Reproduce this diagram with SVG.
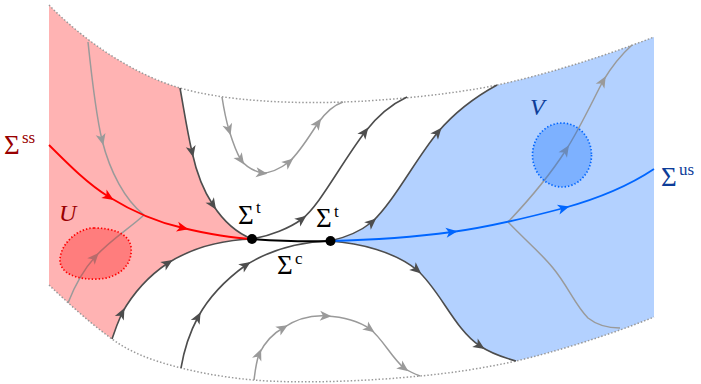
<svg xmlns="http://www.w3.org/2000/svg" width="701" height="384" viewBox="0 0 701 384">
<style>
.bd{fill:none;stroke:#999;stroke-width:1.5;stroke-dasharray:1.5 2}
.dk{fill:none;stroke:#4d4d4d;stroke-width:1.6;marker-mid:url(#ad)}
.gr{fill:none;stroke:#9a9a9a;stroke-width:1.5;marker-mid:url(#ag)}
.grn{fill:none;stroke:#9a9a9a;stroke-width:1.5}
.rd{fill:none;stroke:#ff0000;stroke-width:1.8;marker-mid:url(#ar)}
.bl{fill:none;stroke:#0066ff;stroke-width:1.8;marker-mid:url(#ab)}
.sg{font-family:"Liberation Serif","DejaVu Serif",serif;font-size:27px}
.sp{font-family:"Liberation Serif","DejaVu Serif",serif;font-size:17px}
.it{font-family:"Liberation Serif","DejaVu Serif",serif;font-size:24px;font-style:italic}
</style>
<defs>
<marker id="ad" markerUnits="userSpaceOnUse" orient="auto" overflow="visible" markerWidth="1" markerHeight="1"><path d="M5.5,0 L-6,-5 L-3,0 L-6,5 Z" fill="#4d4d4d"/></marker>
<marker id="ag" markerUnits="userSpaceOnUse" orient="auto" overflow="visible" markerWidth="1" markerHeight="1"><path d="M5.5,0 L-6,-5 L-3,0 L-6,5 Z" fill="#9a9a9a"/></marker>
<marker id="ar" markerUnits="userSpaceOnUse" orient="auto" overflow="visible" markerWidth="1" markerHeight="1"><path d="M5.5,0 L-6,-5 L-3,0 L-6,5 Z" fill="#ff0000"/></marker>
<marker id="ab" markerUnits="userSpaceOnUse" orient="auto" overflow="visible" markerWidth="1" markerHeight="1"><path d="M5.5,0 L-6,-5 L-3,0 L-6,5 Z" fill="#0066ff"/></marker>
</defs>

<g id="regions">
<path id="region-red" fill="#ffb3b3" d="M49,5 C85,42 135,75 180,88 C184,110 187,130 192,152 C197,175 203,190 213,205 C224,222 237,233 252,239 C222,240 192,248 168,263 C150,275 135,290 122,313 C118,322 115,330 112,339 C90,323 68,303 49,285 Z"/>
<path id="region-blue" fill="#b3d1ff" d="M330,241 C348,237 362,230 372,222 C395,200 415,160 438,132 C455,112 475,97 497,85 C540,76 600,58 654,37 L654,317 C610,335 555,352 516,361 C505,358 492,354 480,346 C455,330 440,290 417,270 C395,252 360,243 330,241 Z"/>
</g>

<g id="boundary">
<path class="bd" d="M49,5 C85,42 135,75 180,88 C225,101 290,104 343,102 C380,101 450,95 497,85 C540,76 600,58 654,37"/>
<path class="bd" d="M49,285 C68,303 90,323 112,339 C134,355 158,362 181,368 C205,374 230,378 254,380 C300,384 370,381 420,376 C452,373 485,368 516,361 C555,352 610,335 654,317"/>
</g>

<g id="connectors">
<path class="gr" d="M88,42 C92,80 96,115 102,140 C110,172 125,200 144,215"/>
<path class="gr" d="M68,303 C75,285 85,268 95,257 C110,240 130,228 144,215"/>
<path class="gr" d="M222,97 C224,110 226,120 229,130 C233,143 236,152 241,160 C247,168 254,171 262,173 C272,173 281,168 289,162 C300,152 310,135 318,123 C326,112 334,105 343,102"/>
<path class="gr" d="M254,380 C255,372 256,363 259,354 C265,342 272,334 283,328 C295,320 310,315 326,316 C345,317 360,322 370,329 C382,338 392,358 404,368 C410,372 415,374 420,376"/>
<path class="gr" d="M508,222 C527,202 550,175 566,150 C580,128 592,102 603,81 C612,66 622,54 632,45"/>
<path class="grn" d="M508,222 C525,240 540,252 553,268 C568,286 575,305 588,318 C598,326 610,328 620,328"/>

<path class="dk" d="M180,88 C184,110 187,130 192,152 C197,175 203,190 213,205 C224,222 237,233 252,239"/>
<path class="dk" d="M252,239 C270,236 290,228 302,219 C320,205 340,165 365,132 C378,115 392,104 407,97"/>
<path class="dk" d="M330,241 C348,237 362,230 372,222 C395,200 415,160 438,132 C455,112 475,97 497,85"/>
<path class="dk" d="M330,241 C360,243 395,252 417,270 C440,290 455,330 480,346 C492,354 505,358 516,361"/>
<path class="dk" d="M112,339 C115,330 118,322 122,313 C135,290 150,275 168,263 C192,248 222,240 252,239"/>
<path class="dk" d="M181,368 C184,350 190,332 198,317 C210,295 228,278 246,265 C270,250 300,242 330,241"/>

<path id="sigma-ss" class="rd" d="M49,145 C70,166 88,184 109,197 C135,213 160,223 183,228 C208,234 230,238 252,239"/>
<path id="sigma-us" class="bl" d="M330,241 C370,240 415,237 452,232 C490,227 530,217 564,208 C600,198 630,185 654,169"/>
<path id="sigma-c" fill="none" stroke="#000" stroke-width="2" d="M252,239 C280,241 300,242 330,241"/>
</g>

<g id="set-U">
<path fill="#ff0000" fill-opacity="0.3" stroke="#ff0000" stroke-width="1.7" stroke-dasharray="1.4 2" d="M94,228 C112,228 129,233 131,247 C133,263 121,278 98,279 C78,280 60,274 60,260 C60,245 77,228 94,228 Z"/>
<text class="it" x="59" y="221" fill="#990000">U</text>
</g>
<g id="set-V">
<ellipse cx="562" cy="155" rx="29.5" ry="32" fill="#0066ff" fill-opacity="0.3" stroke="#0066ff" stroke-width="1.7" stroke-dasharray="1.4 2"/>
<text class="it" x="530" y="115" fill="#0d3d99">V</text>
</g>

<g id="saddle-left">
<circle cx="252" cy="239" r="5" fill="#000"/>
<text class="sg" x="238" y="224" fill="#000">Σ</text><text class="sp" x="256" y="213" fill="#000">t</text>
</g>
<g id="saddle-right">
<circle cx="330.5" cy="241" r="5" fill="#000"/>
<text class="sg" x="316" y="227" fill="#000">Σ</text><text class="sp" x="334" y="217" fill="#000">t</text>
</g>

<g id="labels">
<text class="sg" x="277" y="274" fill="#000">Σ</text><text class="sp" x="295" y="264" fill="#000">c</text>
<text class="sg" x="4" y="154" fill="#990000">Σ</text><text class="sp" x="22" y="143" fill="#990000">ss</text>
<text class="sg" x="661" y="186" fill="#0d3d99">Σ</text><text class="sp" x="679" y="175" fill="#0d3d99">us</text>
</g>
</svg>
